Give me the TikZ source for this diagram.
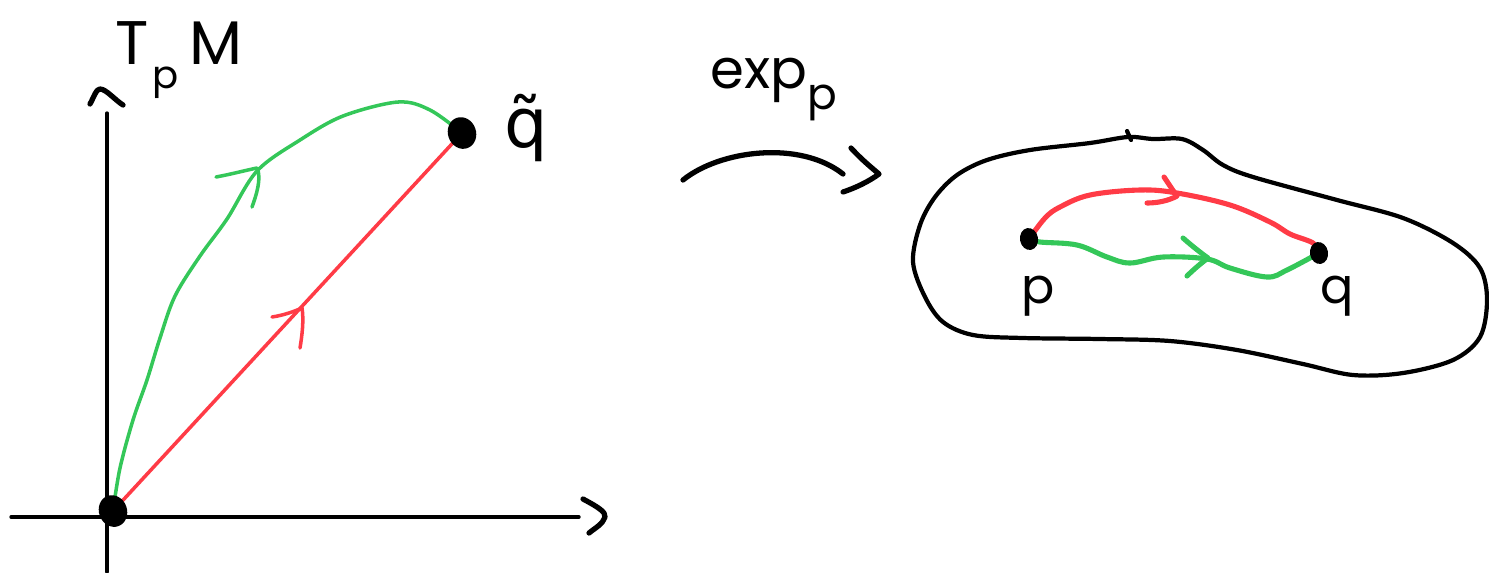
\documentclass[tikz,border=0pt]{standalone}
\usepackage{fontspec}
\setmainfont{Poppins}
\newfontfamily\accfont{DejaVu Sans}
\usetikzlibrary{shapes.geometric}
\pgfdeclarelayer{background}
\pgfsetlayers{background,main}
\definecolor{pathred}{RGB}{255,59,70}
\definecolor{pathgreen}{RGB}{52,199,89}
\tikzset{
  ink/.style={line cap=round, line join=round},
  axis/.style={ink, draw=black, line width=0.95pt},
  tip/.style={ink, draw=black, line width=1.5pt},
  dot/.style={ellipse, fill=black, inner sep=0pt},
  geod/.style={ink, line width=1.0pt},
  geodR/.style={ink, line width=1.45pt},
  lbl/.style={inner sep=0pt, anchor=base west},
}
\begin{document}
\begin{tikzpicture}[x=0.01cm, y=-0.01cm]
\useasboundingbox (0,0) rectangle (1489,572);

% ---------- tangent space ----------
\coordinate (xl) at (11,517);
\coordinate (xr) at (579,517);
\coordinate (yb) at (107,572);
\coordinate (yt) at (107,113);
\draw[axis] (xl) -- (xr);
\draw[axis] (yb) -- (yt);
\draw[tip] (583,499) .. controls (598,507) and (606,512) .. (605,517) .. controls (603,524) and (595,528) .. (589,533);
\draw[tip] (90,104) .. controls (94,97) and (96,89) .. (100,89) .. controls (106,89) and (115,100) .. (123,105);

\node[dot, minimum width=28pt*0.285, minimum height=32pt*0.285, rotate=20] (O) at (113,511) {};
\node[dot, minimum width=28pt*0.285, minimum height=32pt*0.285, rotate=20] (Qt) at (462,133) {};

\begin{pgfonlayer}{background}
  \draw[geod, pathred] (O.center) -- (Qt.center);
  \draw[geod, pathgreen] plot[smooth, tension=0.55] coordinates {(O.center) (120,468) (133,420) (147,380) (160,338) (175,296) (200,256) (227,219) (257,171) (300,140) (343,116) (398,102) (430,110) (Qt.center)};
\end{pgfonlayer}
% arrow marks on the two paths
\draw[geod, pathred] (272,317) .. controls (285,315) and (295,311) .. (302,308) .. controls (304,320) and (302,336) .. (300,348);
\draw[geod, pathgreen] (216,177) .. controls (232,174) and (247,170) .. (257,168) .. controls (262,178) and (256,196) .. (252,207);

\node[lbl, font=\fontsize{17.5}{20}\selectfont] (tpm) at (115,64) {T\hspace{1pt}\raisebox{-7pt}{\fontsize{11}{11}\selectfont p}\hspace{3pt}M};
\node[lbl, font=\fontsize{19.5}{22}\selectfont\accfont] (qtl) at (504,147) {q̃};

% ---------- the map ----------
\coordinate (ms) at (683,180);
\coordinate (me) at (843,174);
\draw[tip] (ms) .. controls (720,150) and (800,140) .. (me);
\draw[tip] (851,148) .. controls (862,160) and (872,168) .. (879,174) .. controls (868,182) and (855,188) .. (843,192);
\node[lbl, font=\fontsize{15.5}{18}\selectfont] (expl) at (710,88) {exp\raisebox{-6pt}{\fontsize{12.5}{12}\selectfont p}};

% ---------- the manifold ----------
\draw[ink, line width=1.2pt] plot[smooth cycle, tension=0.55] coordinates {
  (1090,143) (1128,137) (1153,139) (1182,139) (1203,150) (1223,165) (1253,177)
  (1337,200) (1403,218) (1453,243) (1480,268) (1487,300) (1480,337) (1453,360)
  (1403,373) (1353,375) (1303,364) (1237,350) (1170,341) (1100,339) (1023,338)
  (973,335) (943,322) (925,297) (913,262) (920,225) (935,197) (957,175)
  (987,160) (1030,150)};
\draw[ink, line width=1.2pt] (1127,131) -- (1131,140);

\node[dot, minimum width=18pt*0.285, minimum height=22pt*0.285, rotate=10] (P) at (1029,239) {};
\node[dot, minimum width=18pt*0.285, minimum height=22pt*0.285, rotate=10] (Q) at (1319,253) {};

\begin{pgfonlayer}{background}
  \draw[geodR, pathred] plot[smooth, tension=0.6] coordinates {(P.center) (1045,218) (1060,207) (1090,195) (1140,190) (1177,193) (1230,205) (1270,222) (1290,234) (1313,243) (Q.center)};
  \draw[geodR, pathgreen] plot[smooth, tension=0.6] coordinates {(P.center) (1040,242) (1077,245) (1107,257) (1130,263) (1163,257) (1207,259) (1230,268) (1267,277) (1287,270) (Q.center)};
\end{pgfonlayer}
\draw[geodR, pathred] (1164,177) .. controls (1170,186) and (1174,192) .. (1177,196) .. controls (1168,201) and (1157,203) .. (1147,203);
\draw[geodR, pathgreen] (1183,238) .. controls (1192,246) and (1201,253) .. (1208,258) .. controls (1200,264) and (1193,270) .. (1187,276);

\node[lbl, font=\fontsize{14}{16}\selectfont] (pl) at (1021,303) {p};
\node[lbl, font=\fontsize{14}{16}\selectfont] (ql) at (1320,303) {q};
\end{tikzpicture}
\end{document}
